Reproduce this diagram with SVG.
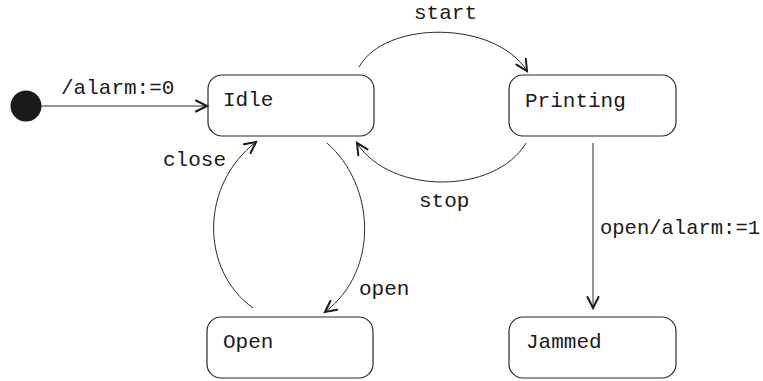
<svg xmlns="http://www.w3.org/2000/svg" width="763" height="381" viewBox="0 0 763 381">
  <style>
    .state rect { fill: #ffffff; stroke: #2a2a2a; stroke-width: 1.2; }
    text { font-family: "Liberation Mono", "DejaVu Sans Mono", monospace; font-size: 21px; fill: #1a1a1a; }
    .edge { fill: none; stroke: #2a2a2a; stroke-width: 1; marker-end: url(#arrow); }
  </style>
  <defs>
    <marker id="arrow" markerUnits="userSpaceOnUse" markerWidth="16" markerHeight="16" refX="0" refY="0" viewBox="-13 -8 16 16" orient="auto">
      <path d="M-11,-5.5 L0,0 L-11,5.5" fill="none" stroke="#1a1a1a" stroke-width="2" stroke-linecap="round" stroke-linejoin="miter"/>
    </marker>
  </defs>

  <!-- initial pseudo-state -->
  <g id="initial">
    <circle cx="26" cy="106" r="15.5" fill="#1a1a1a"/>
  </g>

  <!-- states -->
  <g id="idle" class="state">
    <rect x="208" y="75" width="166" height="61" rx="14"/>
    <text x="223" y="106">Idle</text>
  </g>
  <g id="printing" class="state">
    <rect x="509" y="75" width="167" height="61" rx="14"/>
    <text x="525" y="107">Printing</text>
  </g>
  <g id="open" class="state">
    <rect x="207" y="317" width="166" height="61" rx="14"/>
    <text x="223" y="348">Open</text>
  </g>
  <g id="jammed" class="state">
    <rect x="509" y="317" width="167" height="61" rx="14"/>
    <text x="526" y="348">Jammed</text>
  </g>

  <!-- transitions -->
  <g id="connectors">
    <path class="edge" d="M41,106 L207,106"/>
    <text x="61" y="94">/alarm:=0</text>

    <path class="edge" d="M359,67 C385,20 495,20 527,71"/>
    <text x="414" y="19">start</text>

    <path class="edge" d="M526,143 C495,195 390,195 357,143"/>
    <text x="419" y="207">stop</text>

    <path class="edge" d="M593,143 L593,308"/>
    <text x="600" y="234" textLength="160" lengthAdjust="spacingAndGlyphs">open/alarm:=1</text>

    <path class="edge" d="M327,143 C375,185 380,270 325,312"/>
    <text x="359" y="295">open</text>

    <path class="edge" d="M253,308 C200,270 200,185 256,142"/>
    <text x="163" y="166">close</text>
  </g>
</svg>
